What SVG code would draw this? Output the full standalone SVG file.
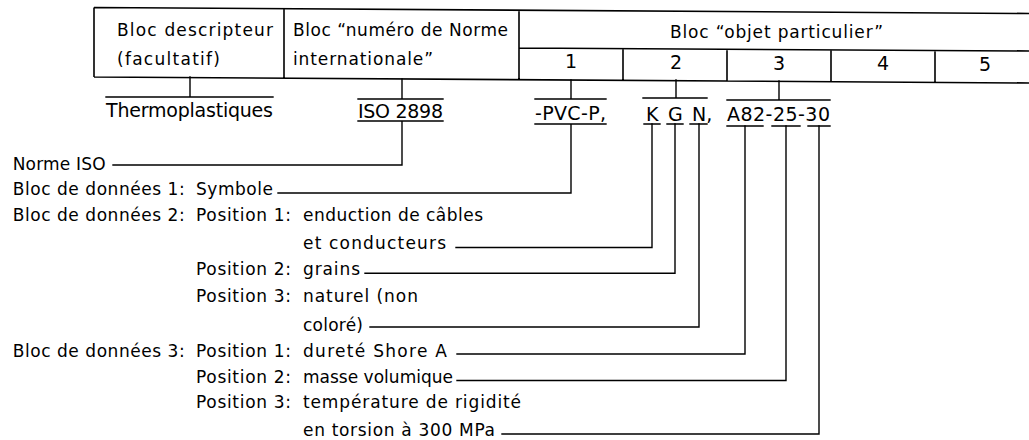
<svg xmlns="http://www.w3.org/2000/svg" width="1029" height="440" viewBox="0 0 1029 440">
<style>
.t{font-family:"DejaVu Sans","Liberation Sans",sans-serif;font-size:17px;fill:#000}
.b{font-family:"DejaVu Sans","Liberation Sans",sans-serif;font-size:19px;fill:#000}
.c{text-anchor:middle}
.ln{stroke:#000;stroke-width:1.4;fill:none;stroke-linecap:square}
.bx{stroke:#000;stroke-width:1.6;fill:none}
</style>
<rect width="1029" height="440" fill="#fff"/>
<g id="table">
<path class="bx" d="M94,7.5 L1029,13.5 M94,7.5 V77 M284,8.7 V77.7 M519,10 V79 M94,77 L1029,83 M519,48 L1029,51 M623,48.7 V80 M727,49.3 V80.7 M831,50 V81.5 M935,50.6 V82.2"/>
</g>
<g id="bloc-descripteur">
<text class="t" x="117" y="36" textLength="156" lengthAdjust="spacing">Bloc descripteur</text>
<text class="t" x="117" y="65" textLength="103" lengthAdjust="spacing">(facultatif)</text>
</g>
<g id="bloc-norme">
<text class="t" x="293" y="36" textLength="215" lengthAdjust="spacing">Bloc “numéro de Norme</text>
<text class="t" x="293" y="65" textLength="140" lengthAdjust="spacing">internationale”</text>
</g>
<g id="bloc-objet">
<text class="t" x="670" y="38" textLength="213" lengthAdjust="spacing">Bloc “objet particulier”</text>
<text class="b c" x="571" y="68">1</text>
<text class="b c" x="676" y="69">2</text>
<text class="b c" x="779" y="69.5">3</text>
<text class="b c" x="883" y="70">4</text>
<text class="b c" x="985" y="70.5">5</text>
</g>
<g id="codes">
<text class="b" x="106" y="117" textLength="167" lengthAdjust="spacing">Thermoplastiques</text>
<text class="b" x="358" y="118" textLength="85" lengthAdjust="spacing">ISO 2898</text>
<text class="b" x="535" y="120" textLength="71" lengthAdjust="spacing">-PVC-P,</text>
<text class="b" x="646" y="121">K</text>
<text class="b" x="668" y="121">G</text>
<text class="b" x="692" y="121">N,</text>
<text class="b" x="727" y="121" textLength="103" lengthAdjust="spacing">A82-25-30</text>
</g>
<g id="legend">
<text class="t" x="12.7" y="170" textLength="93" lengthAdjust="spacing">Norme ISO</text>
<text class="t" x="12.7" y="195" textLength="172" lengthAdjust="spacing">Bloc de données 1:</text>
<text class="t" x="196" y="195" textLength="77" lengthAdjust="spacing">Symbole</text>
<text class="t" x="12.7" y="221" textLength="172" lengthAdjust="spacing">Bloc de données 2:</text>
<text class="t" x="196" y="221" textLength="95" lengthAdjust="spacing">Position 1:</text>
<text class="t" x="303" y="221" textLength="180" lengthAdjust="spacing">enduction de câbles</text>
<text class="t" x="303" y="249" textLength="143" lengthAdjust="spacing">et conducteurs</text>
<text class="t" x="196" y="275" textLength="95" lengthAdjust="spacing">Position 2:</text>
<text class="t" x="303" y="275" textLength="57" lengthAdjust="spacing">grains</text>
<text class="t" x="196" y="302" textLength="95" lengthAdjust="spacing">Position 3:</text>
<text class="t" x="303" y="302" textLength="115" lengthAdjust="spacing">naturel (non</text>
<text class="t" x="303" y="331" textLength="60" lengthAdjust="spacing">coloré)</text>
<text class="t" x="12.7" y="357" textLength="172" lengthAdjust="spacing">Bloc de données 3:</text>
<text class="t" x="196" y="357" textLength="95" lengthAdjust="spacing">Position 1:</text>
<text class="t" x="303" y="357" textLength="144" lengthAdjust="spacing">dureté Shore A</text>
<text class="t" x="196" y="383" textLength="95" lengthAdjust="spacing">Position 2:</text>
<text class="t" x="303" y="383" textLength="150" lengthAdjust="spacing">masse volumique</text>
<text class="t" x="196" y="408" textLength="95" lengthAdjust="spacing">Position 3:</text>
<text class="t" x="303" y="408" textLength="218" lengthAdjust="spacing">température de rigidité</text>
<text class="t" x="303" y="436" textLength="192" lengthAdjust="spacing">en torsion à 300 MPa</text>
</g>
<g id="connectors">
<path class="ln" d="M190,77 V97 M106,97 H273"/>
<path class="ln" d="M402,79 V99 M358,99 H443 M358,121 H443 M402,121 V165 H113"/>
<path class="ln" d="M571,80 V99 M535,99 H606 M535,124 H606 M571,124 V193 H278"/>
<path class="ln" d="M676,80 V98 M643,98 H707 M644,124 H660 M667,124 H683 M690,124 H707"/>
<path class="ln" d="M652,124 V247.5 H456 M675,124 V273.3 H365 M699,124 V327 H370"/>
<path class="ln" d="M779,81 V100 M727,100 H830 M727,126 H763 M772,126 H800 M808,126 H830"/>
<path class="ln" d="M745,126 V354 H457 M786,126 V380.5 H457 M819,126 V434 H502"/>
</g>
</svg>
